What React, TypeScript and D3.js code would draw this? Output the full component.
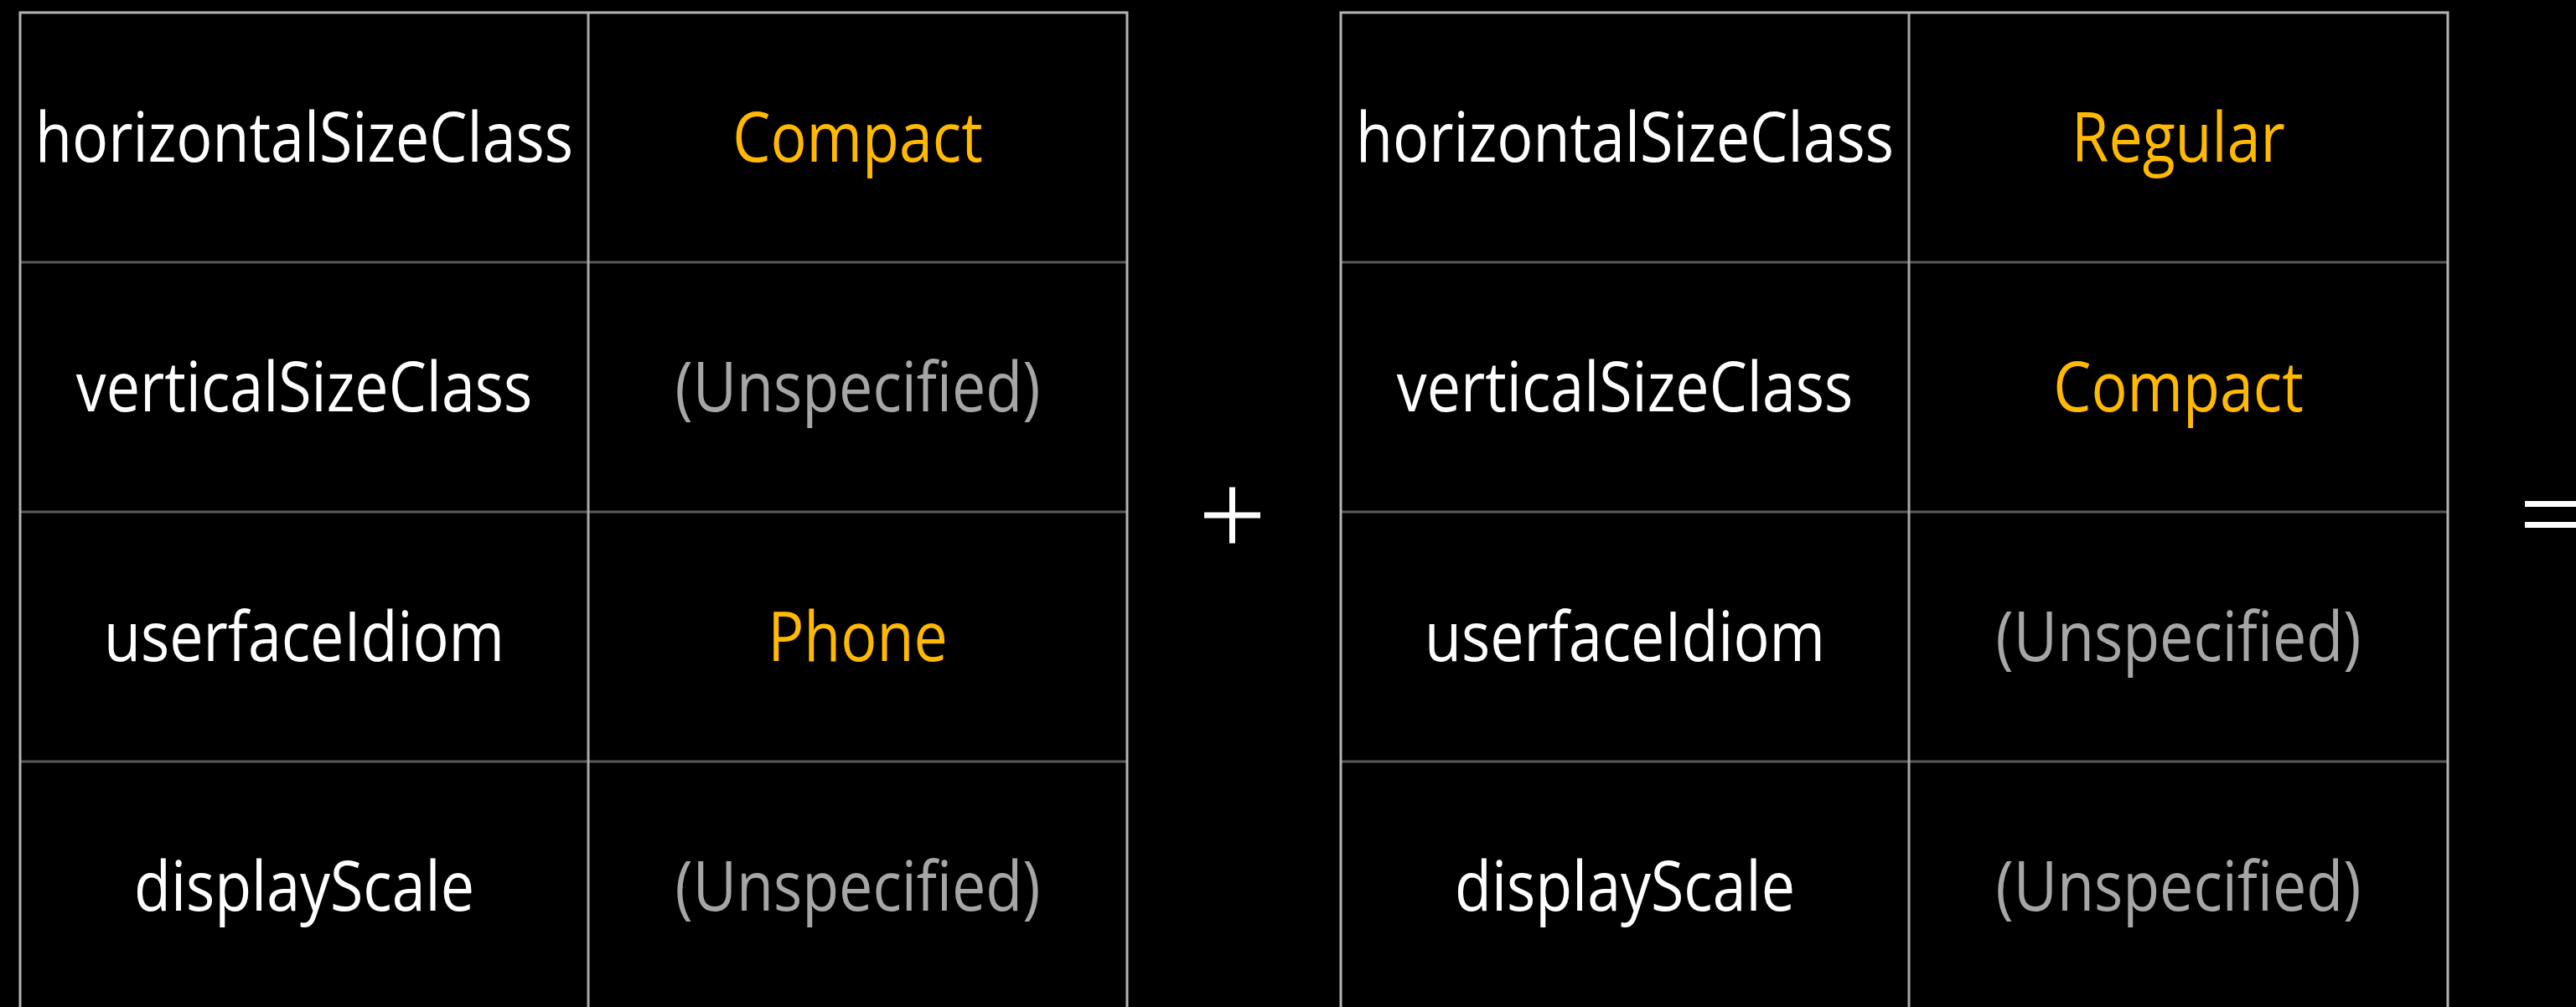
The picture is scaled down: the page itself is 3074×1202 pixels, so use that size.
import React, { useEffect, useRef } from 'react';
import * as d3 from 'd3';

// trait names and the values of the two trait collections being combined
const properties = ['horizontalSizeClass', 'verticalSizeClass', 'userfaceIdiom', 'displayScale'];
const leftValues = ['Compact', '(Unspecified)', 'Phone', '(Unspecified)'];
const rightValues = ['Regular', 'Compact', '(Unspecified)', '(Unspecified)'];
const operators = ['+', '='];
const unspecified = '(Unspecified)';

const WIDTH = 3074;
const HEIGHT = 1202;

const App = () => {
  const svgRef = useRef<SVGSVGElement>(null);

  useEffect(() => {
    document.body.style.margin = '0';
    document.body.style.background = '#000';

    const svg = d3.select(svgRef.current);
    svg.selectAll('*').remove();

    svg.append('rect')
      .attr('width', WIDTH)
      .attr('height', HEIGHT)
      .attr('fill', '#000');

    const tables = [leftValues, rightValues];
    const tableWidth = 1321;
    const step = 1576;
    const left = 24;

    // one band per table, spaced like a repeating row of panels
    const panel = d3.scaleBand<number>()
      .domain(tables.map((_, i) => i))
      .range([left, left + step * tables.length])
      .paddingInner(0)
      .paddingOuter(0);

    const y = d3.scaleBand<string>()
      .domain(properties)
      .range([15, 1207]);

    const fontSize = 82;
    const capHalf = fontSize * 0.714 / 2;
    const squeeze = 0.875;

    tables.forEach((values, ti) => {
      const x0 = panel(ti) as number;
      const x = d3.scaleOrdinal<string, number>()
        .domain(['property', 'value'])
        .range([x0, x0 + 678]);
      const colW = { property: 678, value: tableWidth - 678 };

      const g = svg.append('g');

      // inner row separators (darker)
      g.selectAll('.row-line')
        .data(properties.slice(1))
        .enter().append('line')
        .attr('x1', x0)
        .attr('x2', x0 + tableWidth)
        .attr('y1', d => y(d) as number)
        .attr('y2', d => y(d) as number)
        .attr('stroke', '#5a5a5a')
        .attr('stroke-width', 3);

      // column divider
      g.append('line')
        .attr('x1', x('value'))
        .attr('x2', x('value'))
        .attr('y1', y.range()[0])
        .attr('y2', y.range()[1])
        .attr('stroke', '#a8a8a8')
        .attr('stroke-width', 3);

      // outer border
      g.append('rect')
        .attr('x', x0)
        .attr('y', y.range()[0])
        .attr('width', tableWidth)
        .attr('height', y.range()[1] - y.range()[0])
        .attr('fill', 'none')
        .attr('stroke', '#b4b4b4')
        .attr('stroke-width', 3);

      const cell = (col: 'property' | 'value', text: string, row: string, fill: string) => {
        const cx = x(col) + colW[col] / 2;
        const cy = (y(row) as number) + y.bandwidth() / 2 + capHalf;
        g.append('text')
          .attr('transform', `translate(${cx},${cy}) scale(${squeeze},1)`)
          .attr('text-anchor', 'middle')
          .attr('font-family', '"Open Sans", sans-serif')
          .attr('font-size', fontSize)
          .attr('fill', fill)
          .text(text);
      };

      properties.forEach((p, i) => {
        cell('property', p, p, '#ffffff');
        const v = values[i];
        cell('value', v, p, v === unspecified ? '#a6a6a6' : '#ffb900');
      });
    });

    // operators between / after the tables
    const opSize = 67;
    const midY = 615;
    operators.forEach((op, i) => {
      const end = (panel(i) as number) + tableWidth;
      const cx = end + (step - tableWidth) / 2 - 2;
      const og = svg.append('g')
        .attr('stroke', '#ffffff')
        .attr('stroke-width', 7);
      if (op === '+') {
        og.append('line')
          .attr('x1', cx - opSize / 2).attr('x2', cx + opSize / 2)
          .attr('y1', midY).attr('y2', midY);
        og.append('line')
          .attr('x1', cx).attr('x2', cx)
          .attr('y1', midY - opSize / 2).attr('y2', midY + opSize / 2);
      } else {
        [-12.5, 12.5].forEach(dy => {
          og.append('line')
            .attr('x1', cx - opSize / 2).attr('x2', cx + opSize / 2)
            .attr('y1', midY - 1 + dy).attr('y2', midY - 1 + dy);
        });
      }
    });
  }, []);

  return (
    <svg ref={svgRef} width={WIDTH} height={HEIGHT} style={{ display: 'block' }}></svg>
  );
};

export default App;
